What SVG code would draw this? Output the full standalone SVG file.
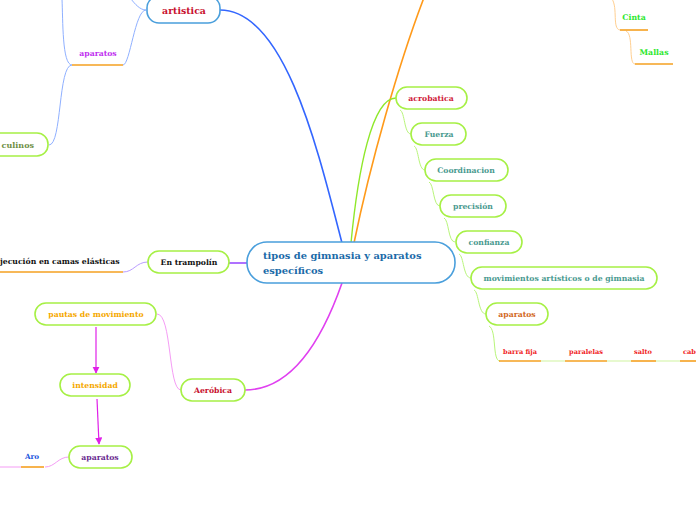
<svg xmlns="http://www.w3.org/2000/svg" width="696" height="520" viewBox="0 0 696 520">
<defs>
<marker id="arr" viewBox="0 0 10 10" refX="9" refY="5" markerWidth="6" markerHeight="6" orient="auto"><path d="M0,0 L10,5 L0,10 z" fill="#e020e8"/></marker>
<style>
.n{fill:#fff;stroke:#a6f045;stroke-width:1.6}
.nb{fill:#fff;stroke:#4a9fdc;stroke-width:1.6}
text{font-family:"DejaVu Serif","Liberation Serif",serif;font-weight:bold;font-size:7.7px}
.c{text-anchor:middle}
.ul{stroke:#f5a020;stroke-width:1.6;fill:none}
.gl{stroke:#b8f57a;stroke-width:1;fill:none}
.gu{stroke:#dff8c0;stroke-width:1.6;fill:none}
.pk{stroke:#f59cf5;stroke-width:1;fill:none}
.lb{stroke:#8fb0ff;stroke-width:1;fill:none}
.ol{stroke:#ffcf90;stroke-width:1;fill:none}
.r{fill:#f01c1c;font-size:6.6px}
</style>
</defs>
<g id="connectors">
<path d="M220,10 C285,10 318,150 342,243" stroke="#3366ff" stroke-width="1.6" fill="none"/>
<path d="M354,243 C370,165 398,65 425,-5" stroke="#ff9a1a" stroke-width="1.6" fill="none"/>
<path d="M351,243 C358,170 372,98 396,98" stroke="#8fe82a" stroke-width="1.4" fill="none"/>
<path d="M342,283 C322,340 292,390 245,390" stroke="#e040f0" stroke-width="1.6" fill="none"/>
<path d="M247,263 L229,263" stroke="#9b4dff" stroke-width="1.6" fill="none"/>
<path d="M148,262 C136,262 134,272 123,272" stroke="#b99cff" stroke-width="1" fill="none"/>
<path d="M146,10 C135,10 130,65 123,65" class="lb"/>
<path d="M146,10 C140,10 135,4 131,-1" class="lb"/>
<path d="M72,65 C62,65 63,20 62,-1" class="lb"/>
<path d="M72,65 C58,65 62,145 49,145" class="lb"/>
<path d="M181,390 C168,390 172,314 157,314" class="pk"/>
<path d="M96,327 L96,373" stroke="#e020e8" stroke-width="1.2" marker-end="url(#arr)"/>
<path d="M97,399 L99,444" stroke="#e020e8" stroke-width="1.2" marker-end="url(#arr)"/>
<path d="M69,457 C58,457 55,467 45,467" class="pk"/>
<path d="M21,467 L0,467" class="pk"/>
<path d="M400,110 C405,112 404,134 411,134" class="gl"/>
<path d="M414,146 C419,148 418,170 425,170" class="gl"/>
<path d="M429,182 C434,184 433,206 440,206" class="gl"/>
<path d="M444,218 C449,220 448,242 455,242" class="gl"/>
<path d="M459,254 C464,256 463,278 471,278" class="gl"/>
<path d="M474,290 C479,292 478,314 486,314" class="gl"/>
<path d="M489,326 C497,330 492,361 500,361" class="gl"/>
<path d="M541,361 L565,361 M607,361 L631,361 M656,361 L680,361" class="gu"/>
<path d="M612,-1 C618,8 612,29 620,30" class="ol"/>
<path d="M626,31 C634,34 628,64 635,64" class="ol"/>
</g>
<g id="central">
<rect x="247" y="242" width="208" height="41" rx="20" class="nb"/>
<text x="263" y="259" style="font-size:9.9px;fill:#1a6aa8">tipos de gimnasia y aparatos</text>
<text x="263" y="274" style="font-size:9.9px;fill:#1a6aa8">específicos</text>
</g>
<g id="artistica">
<rect x="147" y="-4" width="73" height="27" rx="12" class="nb"/>
<text x="184" y="14" class="c" style="font-size:9.4px;fill:#c8102e">artistica</text>
</g>
<g id="aparatos-artistica">
<text x="98" y="56" class="c" style="fill:#c030f0">aparatos</text>
<path d="M72,65 L123,65" class="ul"/>
</g>
<g id="culinos">
<rect x="-20" y="133" width="68" height="23" rx="11" class="n"/>
<text x="34" y="148" style="text-anchor:end;fill:#6e8f45;font-size:8px">culinos</text>
</g>
<g id="trampolin">
<rect x="148" y="251" width="81" height="22" rx="11" class="n"/>
<text x="189" y="265" class="c" style="fill:#111">En trampolín</text>
</g>
<g id="ejecucion">
<text x="0" y="264" style="fill:#111">jecución en camas elásticas</text>
<path d="M0,272 L123,272" class="ul"/>
</g>
<g id="aerobica">
<rect x="181" y="379" width="64" height="22" rx="11" class="n"/>
<text x="213" y="393" class="c" style="fill:#c8102e">Aeróbica</text>
</g>
<g id="pautas">
<rect x="35" y="303" width="121" height="22" rx="11" class="n"/>
<text x="96" y="317" class="c" style="fill:#f5a800">pautas de movimiento</text>
</g>
<g id="intensidad">
<rect x="60" y="374" width="70" height="22" rx="11" class="n"/>
<text x="95" y="388" class="c" style="fill:#f5a800">intensidad</text>
</g>
<g id="aparatos-aerobica">
<rect x="69" y="446" width="63" height="22" rx="11" class="n"/>
<text x="100" y="460" class="c" style="fill:#6a2c91">aparatos</text>
</g>
<g id="aro">
<text x="32" y="459" class="c" style="fill:#2255dd;font-size:7.2px">Aro</text>
<path d="M21,467 L44,467" class="ul"/>
</g>
<g id="acrobatica">
<rect x="396" y="87" width="71" height="22" rx="11" class="n"/>
<text x="431" y="101" class="c" style="fill:#d01a3a">acrobatica</text>
</g>
<g id="fuerza">
<rect x="411" y="123" width="55" height="22" rx="11" class="n"/>
<text x="439" y="137" class="c" style="fill:#4a9a90">Fuerza</text>
</g>
<g id="coordinacion">
<rect x="425" y="159" width="83" height="22" rx="11" class="n"/>
<text x="466" y="173" class="c" style="fill:#4a9a90">Coordinacion</text>
</g>
<g id="precision">
<rect x="440" y="195" width="66" height="22" rx="11" class="n"/>
<text x="473" y="209" class="c" style="fill:#4a9a90">precisión</text>
</g>
<g id="confianza">
<rect x="456" y="231" width="66" height="22" rx="11" class="n"/>
<text x="489" y="245" class="c" style="fill:#4a9a90">confianza</text>
</g>
<g id="movimientos">
<rect x="471" y="267" width="186" height="22" rx="11" class="n"/>
<text x="564" y="281" class="c" style="fill:#4a9a90">movimientos artísticos o de gimnasia</text>
</g>
<g id="aparatos-acro">
<rect x="486" y="303" width="62" height="22" rx="11" class="n"/>
<text x="517" y="317" class="c" style="fill:#d2691e">aparatos</text>
</g>
<g id="barra">
<text x="520" y="354" class="c r">barra fija</text>
<path d="M499,361 L541,361" class="ul"/>
</g>
<g id="paralelas">
<text x="586" y="354" class="c r">paralelas</text>
<path d="M565,361 L607,361" class="ul"/>
</g>
<g id="salto">
<text x="643" y="354" class="c r">salto</text>
<path d="M631,361 L656,361" class="ul"/>
</g>
<g id="caballo">
<text x="683" y="354" class="r">cab</text>
<path d="M680,361 L697,361" class="ul"/>
</g>
<g id="cinta">
<text x="634" y="20" class="c" style="fill:#2ee82e;font-size:7.8px">Cinta</text>
<path d="M620,30 L648,30" class="ul"/>
</g>
<g id="mallas">
<text x="654" y="55" class="c" style="fill:#2ee82e;font-size:7.8px">Mallas</text>
<path d="M635,64 L673,64" class="ul"/>
</g>
</svg>
